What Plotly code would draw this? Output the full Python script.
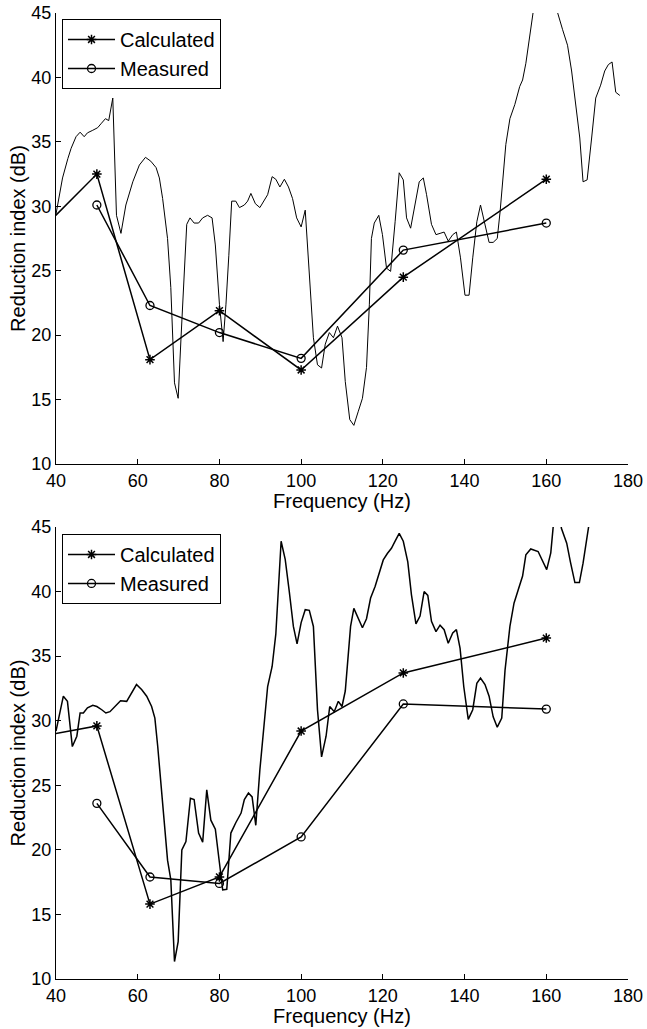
import plotly.graph_objects as go

# ---------------- data ----------------
# Third-octave band centre frequencies (Hz); 31.5 Hz point lies left of the visible axis
bands_calc = [31.5, 50, 63, 80, 100, 125, 160]
bands_meas = [50, 63, 80, 100, 125, 160]

calc_top = [26.6, 32.5, 18.1, 21.9, 17.3, 24.5, 32.1]
meas_top = [30.1, 22.3, 20.2, 18.2, 26.6, 28.7]

calc_bot = [28.5, 29.6, 15.8, 17.9, 29.2, 33.7, 36.4]
meas_bot = [23.6, 17.9, 17.4, 21.0, 31.3, 30.9]

# Narrow-band curve, upper panel
f_top = [40.0, 41.6, 42.9, 43.7, 44.9, 45.9, 46.9, 47.7, 49.0, 50.2, 51.0, 52.1, 52.9, 53.9,
         54.8, 55.9, 57.1, 58.8, 60.4, 61.9, 63.2, 64.5, 65.3, 66.1, 67.3, 68.1, 69.0, 69.9,
         70.6, 71.4, 72.0, 72.8, 73.8, 74.9, 75.9, 77.1, 78.2, 79.0, 80.0, 80.9, 81.6, 82.3,
         83.0, 84.0, 84.9, 86.1, 86.9, 87.7, 88.8, 89.9, 91.0, 91.8, 92.9, 93.8, 94.8, 95.9,
         96.9, 97.9, 98.9, 100.0, 101.0, 102.0, 103.0, 104.0, 105.0, 105.9, 106.9, 107.9,
         108.9, 110.0, 110.8, 111.9, 112.9, 114.0, 115.0, 116.0, 116.7, 117.2, 117.9, 119.0,
         119.9, 120.9, 121.9, 123.0, 124.0, 125.0, 125.8, 126.8, 127.9, 128.9, 129.9, 130.7,
         131.9, 133.0, 134.0, 135.0, 136.0, 137.1, 138.0, 139.0, 140.1, 141.1, 142.0, 143.0,
         143.9, 145.0, 146.0, 147.0, 148.0, 148.7, 149.5, 150.1, 151.1, 152.3, 153.5, 154.2,
         155.0, 156.0, 156.8, 158.0, 159.5, 161.0, 162.7, 164.0, 165.2, 166.2, 167.2, 168.2,
         169.0, 170.0, 171.1, 172.1, 173.3, 174.3, 175.2, 176.1, 177.0, 178.0]
r_top = [29.4, 32.2, 33.7, 34.5, 35.4, 35.75, 35.4, 35.7, 35.9, 36.1, 36.4, 36.8, 36.65, 38.4,
         29.3, 27.9, 30.1, 31.9, 33.2, 33.8, 33.5, 33.0, 32.2, 30.6, 27.5, 23.7, 16.3, 15.1,
         19.8, 24.9, 28.6, 29.1, 28.7, 28.7, 29.1, 29.3, 29.1, 27.0, 22.4, 19.5, 22.4, 26.2,
         30.4, 30.4, 29.9, 30.1, 30.4, 31.0, 30.2, 29.9, 30.5, 30.9, 32.3, 32.1, 31.5, 32.1,
         31.5, 30.6, 29.1, 28.4, 29.7, 24.95, 19.8, 17.7, 17.45, 19.3, 20.2, 19.8,
         20.7, 19.8, 16.4, 13.45, 13.0, 14.1, 15.1, 17.5, 22.4, 27.5, 28.7, 29.3,
         27.8, 25.2, 24.95, 28.8, 32.6, 32.05, 29.1, 28.3, 30.1, 31.9, 32.2, 30.9,
         28.6, 27.8, 27.9, 28.0, 27.3, 27.8, 28.0, 26.0, 23.1, 23.1, 26.0, 28.8,
         30.1, 28.6, 27.2, 27.2, 27.5, 29.6, 32.7, 34.8, 36.8, 37.9, 39.3, 39.8,
         41.1, 43.55, 45.1, 47.5, 49.0, 48.0, 45.1, 43.7, 42.5, 40.5, 37.9, 35.3,
         31.9, 32.05, 35.3, 38.4, 39.4, 40.5, 41.0, 41.2, 38.85, 38.6]

# Narrow-band curve, lower panel
f_bot = [40.0, 41.8, 42.8, 44.0, 45.1, 45.9, 46.7, 47.7, 49.0, 50.0, 51.2, 52.2, 53.2, 54.4,
         55.8, 57.3, 58.5, 59.7, 61.0, 62.2, 63.4, 64.2, 64.9, 65.7, 66.5, 67.3, 68.1, 69.0,
         69.9, 70.8, 71.8, 72.9, 73.8, 74.9, 75.9, 76.9, 77.9, 79.0, 80.0, 80.8, 81.8, 82.8,
         84.0, 85.3, 86.1, 87.1, 88.0, 88.9, 89.9, 91.0, 91.8, 92.9, 93.8, 95.1, 96.1, 97.1,
         98.1, 99.0, 100.0, 101.0, 102.0, 103.0, 104.0, 105.0, 106.1, 107.0, 108.1, 109.1,
         110.0, 110.8, 111.5, 112.1, 112.9, 114.0, 115.0, 116.0, 117.0, 118.1, 119.1, 120.1,
         121.1, 122.1, 123.0, 124.0, 125.0, 126.1, 127.0, 128.1, 129.1, 130.1, 131.0, 131.9,
         133.0, 134.0, 135.0, 136.0, 137.1, 138.0, 138.9, 139.8, 140.9, 142.0, 143.0, 143.9,
         145.0, 146.0, 147.0, 148.0, 149.1, 149.9, 151.1, 152.1, 153.1, 154.2, 155.0, 156.2,
         158.0, 159.1, 160.1, 161.1, 161.7, 162.5, 163.3, 163.7, 165.0, 165.9, 167.0, 168.1,
         169.0, 170.3, 171.2, 172.5]
r_bot = [29.2, 31.9, 31.5, 28.0, 28.8, 30.6, 30.6, 31.0, 31.2, 31.1, 30.85, 30.6, 30.7, 31.1,
         31.55, 31.5, 32.1, 32.8, 32.4, 31.9, 31.1, 30.2, 28.0, 24.9, 21.8, 19.2, 17.7, 11.35,
         12.9, 20.0, 20.65, 24.0, 23.9, 21.3, 20.6, 24.65, 22.3, 21.6, 19.0, 16.9, 16.95, 21.3,
         22.1, 22.85, 23.9, 24.4, 24.1, 21.9, 26.2, 30.3, 32.65, 34.2, 36.7, 43.9, 42.5, 40.0,
         37.3, 35.95, 37.6, 38.6, 38.55, 37.3, 30.85, 27.2, 28.8, 31.1, 30.7, 31.5,
         31.1, 32.3, 35.2, 37.3, 38.7, 37.95, 37.2, 37.9, 39.5, 40.4, 41.4, 42.45,
         42.95, 43.35, 43.9, 44.5, 43.9, 42.3, 39.75, 37.5, 38.1, 40.0, 39.7, 37.7,
         36.9, 37.4, 37.05, 36.0, 36.8, 37.05, 35.6, 32.65, 30.1, 30.85, 32.9, 33.3,
         32.8, 31.9, 30.3, 29.5, 30.2, 33.9, 37.3, 39.1, 40.1, 41.2, 42.85, 43.3,
         43.1, 42.4, 41.7, 43.0, 45.05, 46.2, 46.0, 44.9, 43.75, 42.3, 40.7, 40.7,
         42.2, 44.9, 46.5, 48.0]

x_ticks = [40, 60, 80, 100, 120, 140, 160, 180]
y_ticks = [10, 15, 20, 25, 30, 35, 40, 45]

# ---------------- figure ----------------
FONT = "Liberation Sans, Arial, Helvetica, sans-serif"
fig = go.Figure()

panels = [
    ("x", "y", "legend", f_top, r_top, calc_top, meas_top, 1.0),
    ("x2", "y2", "legend2", f_bot, r_bot, calc_bot, meas_bot, 1.5),
]
for xa, ya, lg, fc, rc, cv, mv, cw in panels:
    fig.add_trace(go.Scatter(x=fc, y=rc, mode="lines", xaxis=xa, yaxis=ya,
                             line=dict(color="black", width=cw), showlegend=False))
    fig.add_trace(go.Scatter(x=bands_calc, y=cv, mode="lines+markers", name="Calculated",
                             xaxis=xa, yaxis=ya, legend=lg,
                             line=dict(color="black", width=1.5),
                             marker=dict(symbol="asterisk-open", size=8, color="black",
                                         line=dict(color="black", width=1.5))))
    fig.add_trace(go.Scatter(x=bands_meas, y=mv, mode="lines+markers", name="Measured",
                             xaxis=xa, yaxis=ya, legend=lg,
                             line=dict(color="black", width=1.5),
                             marker=dict(symbol="circle-open", size=8, color="black",
                                         line=dict(color="black", width=1.3))))

xaxis_common = dict(range=[40, 180], tickvals=x_ticks, ticks="inside", ticklen=5,
                    tickcolor="black", showline=True, linecolor="black", linewidth=1,
                    showgrid=False, zeroline=False, automargin=False,
                    tickfont=dict(size=18, color="black"))
yaxis_common = dict(range=[10, 45], tickvals=y_ticks, ticks="inside", ticklen=5,
                    tickcolor="black", showline=True, linecolor="black", linewidth=1,
                    showgrid=False, zeroline=False, automargin=False,
                    tickfont=dict(size=18, color="black"),
                    title=dict(text="Reduction index (dB)", font=dict(size=20, color="black"),
                               standoff=0))

legend_common = dict(bgcolor="white", bordercolor="black", borderwidth=1,
                     font=dict(size=20, color="black", family=FONT),
                     xanchor="left", yanchor="top", tracegroupgap=0, itemwidth=47)

x_title_annots = [
    dict(text="Frequency (Hz)", xref="x domain", yref="y domain", x=0.5, y=0,
         xanchor="center", yanchor="middle", yshift=-37, showarrow=False,
         font=dict(size=20, color="black", family=FONT)),
    dict(text="Frequency (Hz)", xref="x2 domain", yref="y2 domain", x=0.5, y=0,
         xanchor="center", yanchor="middle", yshift=-37, showarrow=False,
         font=dict(size=20, color="black", family=FONT)),
]

fig.update_layout(
    width=647, height=1029,
    margin=dict(l=56, r=19, t=13, b=50),
    paper_bgcolor="white", plot_bgcolor="white",
    font=dict(family=FONT, color="black"),
    xaxis=dict(domain=[0, 1], anchor="y", **xaxis_common),
    yaxis=dict(domain=[0.5331, 1], anchor="x", **yaxis_common),
    xaxis2=dict(domain=[0, 1], anchor="y2", **xaxis_common),
    yaxis2=dict(domain=[0, 0.4679], anchor="x2", **yaxis_common),
    legend=dict(x=0.0105, y=0.9938, **legend_common),
    legend2=dict(x=0.0105, y=0.4607, **legend_common),
    annotations=x_title_annots,
)

fig.write_html("out.html")
